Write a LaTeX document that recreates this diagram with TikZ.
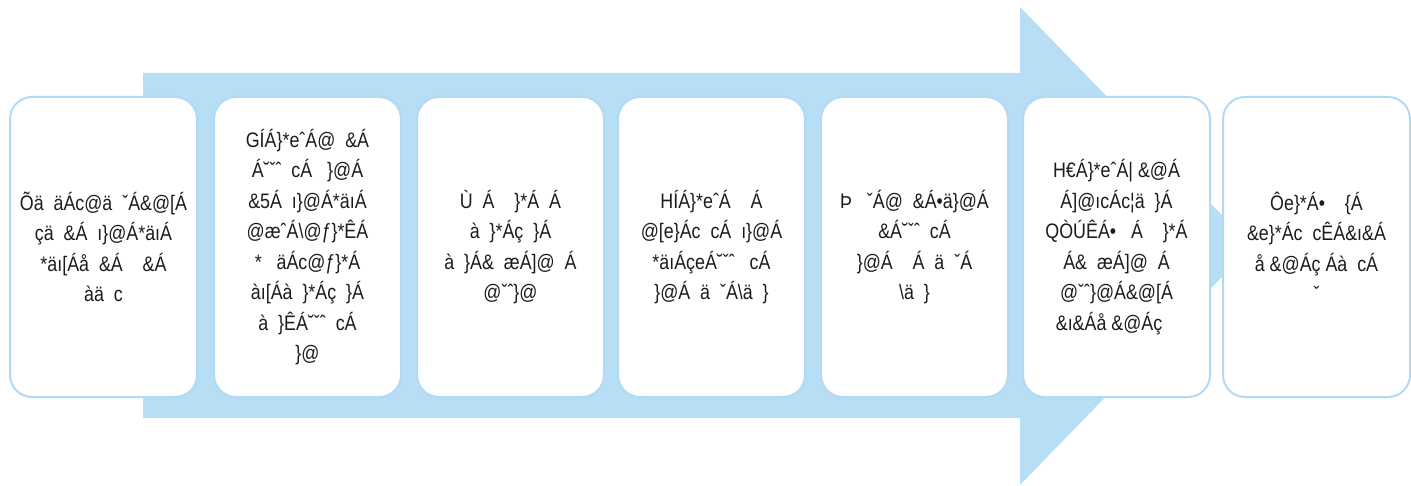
\documentclass[tikz,border=0pt]{standalone}
\usepackage{fontspec}
\setmainfont{Liberation Sans}[FakeStretch=0.85]
\definecolor{arrowblue}{RGB}{184,222,246}
\definecolor{boxedge}{RGB}{178,218,244}
\definecolor{txt}{RGB}{30,27,28}
\begin{document}
\begin{tikzpicture}[x=1pt,y=-1pt,
  stage/.style={draw=boxedge,line width=2pt,fill=white,rounded corners=22pt,
    minimum width=187pt,minimum height=300pt,inner sep=0pt,align=center,
    text=txt,font=\fontsize{21}{30.5}\selectfont,anchor=north west}]
\useasboundingbox (0,0) rectangle (1411,486);
\fill[arrowblue] (143,73) -- (1020,73) -- (1020,7) -- (1252,246) -- (1020,485) -- (1020,418) -- (143,418) -- cycle;
\node[stage] (b1) at (9,96) {Õä~~äÁc@ä~~ˇÁ\&@[Á\\çä~~\&Á~~ı\}@Á*äıÁ\\*äı[Áå~~\&Á~~~~\&Á\\àä~~c};
\node[stage] (b2) at (213,96) {GÍÁ\}*eˆÁ@~~\&Á\\Á˘ˇˆ~~cÁ~~~\}@Á\\\&5Á~~ı\}@Á*äıÁ\\@æˆÁ\textbackslash @ƒ\}*ÊÁ\\*~~~äÁc@ƒ\}*Á\\àı[Áà~~\}*Áç~~\}Á\\à~~\}ÊÁ˘ˇˆ~~cÁ\\\}@};
\node[stage] (b3) at (416,96) {Ù~~Á~~~~\}*Á~~Á\\à~~\}*Áç~~\}Á\\à~~\}Á\&~~æÁ]@~~Á\\@ˇˆ\}@};
\node[stage] (b4) at (617,96) {HÍÁ\}*eˆÁ~~~~Á\\@[e\}Ác~~cÁ~~ı\}@Á\\*äıÁçeÁ˘ˇˆ~~~cÁ\\\}@Á~~ä~~ˇÁ\textbackslash ä~~\}};
\node[stage] (b5) at (820,96) {Þ~~~ˇÁ@~~\&Á•ä\}@Á\\\&Á˘ˇˆ~~cÁ\\\}@Á~~~~Á~~ä~~ˇÁ\\\textbackslash ä~~\}};
\node[stage] (b6) at (1022,96) {H€Á\}*eˆÁ|~\&@Á\\Á]@ıcÁc¦ä~~\}Á\\QÒÚÊÁ•~~~Á~~~~\}*Á\\Á\&~~æÁ]@~~Á\\@ˇˆ\}@Á\&@[Á\\\&ı\&Áå~\&@Áç~~~~};
\node[stage] (b7) at (1222,96) {Ôe\}*Á•~~~~\{Á\\\&e\}*Ác~~cÊÁ\&ı\&Á\\å~\&@Áç~Áà~~cÁ\\ˇ};
\end{tikzpicture}
\end{document}
